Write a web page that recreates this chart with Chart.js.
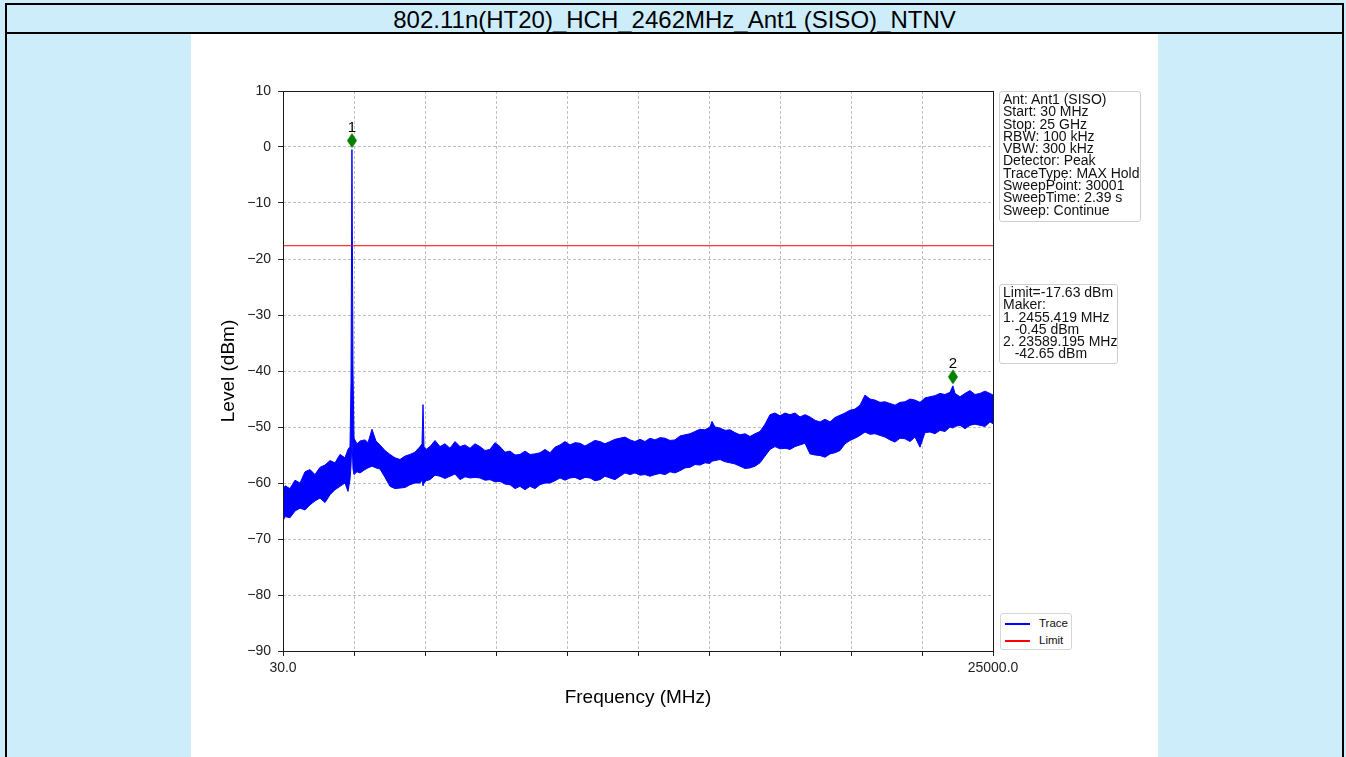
<!DOCTYPE html>
<html>
<head>
<meta charset="utf-8">
<script src="https://cdn.jsdelivr.net/npm/chart.js@4/dist/chart.umd.min.js"></script>
<style>
html,body{margin:0;padding:0;width:1346px;height:757px;overflow:hidden;background:#cdedfb;font-family:"Liberation Sans",Arial,sans-serif;}
#frame{position:absolute;left:5px;top:3px;width:1335px;height:800px;border:2px solid #000;}
#title{position:absolute;left:0;top:0;width:100%;height:27px;border-bottom:2px solid #000;text-align:center;font-size:24px;line-height:30px;color:#000;}
#panel{position:absolute;left:191px;top:34px;width:967px;height:723px;background:#fff;}
#chart{position:absolute;left:191px;top:34px;}
.box{position:absolute;box-sizing:border-box;border:1px solid #cfcfcf;border-radius:3px;background:#fff;font-size:14px;line-height:12.3px;padding:1px 3px;color:#111;white-space:pre;}
#legend{position:absolute;box-sizing:border-box;left:1000px;top:613px;width:72px;height:37px;border:1px solid #d6d6d6;border-radius:3px;background:#fff;font-size:11.5px;color:#111;}
#legend .row{position:absolute;left:4px;height:14px;}
#legend .ln{position:absolute;left:0;top:7px;width:25px;height:1.5px;}
#legend .tx{position:absolute;left:34px;top:0;line-height:14px;}
</style>
</head>
<body>
<div id="panel"></div>
<div id="frame"><div id="title"></div></div>
<canvas id="chart" width="967" height="723"></canvas>
<div class="box" id="info1" style="left:999px;top:91px;width:142px;height:131px;"></div>
<div class="box" id="info2" style="left:999px;top:284px;width:119px;height:80px;"></div>
<div id="legend"></div>
<script>
// ---------------- data ----------------
const chartTitle = "802.11n(HT20)_HCH_2462MHz_Ant1 (SISO)_NTNV";
const xMin = 30, xMax = 25000;
const yMin = -90, yMax = 10;
const xTickValues = [30, 2527, 5024, 7521, 10018, 12515, 15012, 17509, 20006, 22503, 25000];
const xTickLabels = ["30.0", "", "", "", "", "", "", "", "", "", "25000.0"];
const yTickValues = [10, 0, -10, -20, -30, -40, -50, -60, -70, -80, -90];

const freqMHz = [
  30,100,276,452,628,804,980,1155,1331,1507,1683,1859,2035,2210,2316,2386,2421,2455,2492,2527,
  2632,2738,2914,3019,3160,3300,3441,3617,3793,3969,4145,4321,4496,4672,4848,4918,4954,4989,5059,5200,
  5376,5552,5727,5903,6079,6255,6431,6607,6782,6958,7134,7310,7486,7662,7838,8013,8189,8365,8541,8717,
  8893,9068,9244,9420,9596,9772,9948,10124,10299,10475,10651,10827,11003,11179,11354,11530,11706,11882,12058,12234,
  12409,12585,12761,12937,13113,13289,13465,13640,13816,13992,14168,14344,14520,14695,14871,15047,15117,15223,15399,15575,
  15751,15926,16102,16278,16454,16630,16806,16982,17157,17333,17509,17685,17861,18037,18212,18388,18564,18740,18916,19092,
  19268,19443,19619,19795,19971,20147,20323,20499,20674,20850,21026,21202,21378,21554,21729,21905,22081,22257,22433,22609,
  22785,22960,23136,23312,23488,23589,23663,23839,24015,24191,24366,24542,24718,24894,25000
];
// upper envelope of the MAX-hold trace (dBm)
const traceUpper = [
  -61.5,-60.5,-61.0,-59.5,-60.0,-58.0,-57.6,-58.5,-57.2,-56.8,-56.0,-56.4,-54.9,-55.5,-54.0,-53.5,-42.0,-0.45,-40.0,-52.0,
  -53.0,-52.5,-52.3,-52.8,-50.4,-52.5,-53.2,-54.2,-54.9,-55.5,-55.8,-55.2,-54.9,-54.5,-53.5,-53.0,-46.0,-53.5,-54.0,-53.5,
  -52.4,-53.5,-53.0,-53.8,-52.6,-53.5,-53.2,-53.8,-53.0,-53.5,-54.2,-54.0,-52.8,-53.5,-54.5,-54.3,-55.0,-54.9,-54.3,-54.9,
  -54.8,-54.6,-54.0,-54.6,-53.6,-53.2,-52.6,-53.2,-52.8,-52.9,-53.4,-52.9,-52.4,-52.6,-53.0,-52.6,-52.2,-52.0,-51.8,-52.3,
  -52.6,-52.2,-52.6,-52.0,-52.3,-51.9,-52.0,-52.4,-52.3,-51.6,-51.4,-51.2,-50.8,-50.4,-50.5,-50.0,-49.0,-50.0,-50.2,-50.6,
  -50.5,-51.0,-51.4,-51.2,-51.7,-51.2,-50.8,-49.5,-47.8,-47.5,-48.0,-47.5,-47.8,-47.5,-48.2,-47.8,-48.2,-48.8,-49.1,-48.6,
  -49.1,-48.3,-47.9,-47.5,-47.0,-46.8,-46.1,-44.3,-45.0,-45.2,-45.6,-45.5,-45.8,-46.1,-45.6,-45.5,-45.0,-45.2,-45.6,-44.8,
  -44.6,-44.4,-44.0,-44.2,-43.8,-42.65,-44.0,-44.6,-44.0,-43.5,-44.2,-44.0,-43.6,-44.0,-44.3
];
// lower envelope of the MAX-hold trace (dBm)
const traceLower = [
  -66.8,-66.0,-66.2,-65.0,-64.5,-64.8,-63.9,-63.2,-62.7,-63.5,-62.1,-61.2,-60.6,-60.0,-61.5,-59.4,-57.0,-52.0,-57.5,-58.5,
  -58.0,-58.2,-57.6,-57.3,-57.0,-57.3,-57.5,-59.0,-60.6,-61.0,-60.9,-60.8,-60.3,-60.0,-60.0,-59.5,-60.5,-60.0,-59.6,-59.4,
  -58.6,-58.8,-59.2,-58.8,-58.4,-59.4,-58.9,-59.1,-59.0,-59.1,-59.5,-59.4,-59.8,-59.7,-60.2,-60.3,-61.0,-60.6,-61.2,-60.6,
  -61.0,-60.3,-60.0,-60.0,-59.6,-59.1,-59.5,-59.1,-59.0,-59.4,-59.0,-59.1,-59.6,-59.4,-58.8,-59.1,-59.4,-58.8,-58.2,-58.5,
  -58.2,-58.6,-58.5,-58.8,-58.5,-58.3,-58.5,-58.0,-58.2,-57.8,-57.3,-57.2,-56.7,-56.8,-56.4,-56.5,-56.1,-56.0,-55.8,-56.2,
  -56.4,-56.6,-57.0,-57.4,-57.3,-57.0,-56.4,-55.2,-54.0,-53.5,-53.9,-53.8,-54.0,-53.5,-53.2,-52.9,-54.8,-55.0,-55.1,-55.4,
  -54.8,-54.6,-54.2,-53.0,-52.4,-52.0,-51.5,-50.9,-51.3,-51.2,-51.5,-51.8,-52.3,-52.7,-52.0,-52.1,-52.6,-51.8,-53.6,-51.0,
  -50.9,-51.2,-50.6,-50.8,-50.0,-50.2,-49.9,-49.7,-50.3,-49.7,-49.5,-49.7,-49.9,-49.1,-49.4
];
const limitLevel = -17.63;
const markerNames = ["1", "2"];
const markerFreq = [2455.419, 23589.195];
const markerLevel = [-0.45, -42.65];
const infoLines = [
  "Ant: Ant1 (SISO)", "Start: 30 MHz", "Stop: 25 GHz", "RBW: 100 kHz", "VBW: 300 kHz",
  "Detector: Peak", "TraceType: MAX Hold", "SweepPoint: 30001", "SweepTime: 2.39 s", "Sweep: Continue"
];
const legendItems = [{label: "Trace", color: "#0000ff"}, {label: "Limit", color: "#ff0000"}];

// ---------------- text blocks ----------------
document.getElementById('title').textContent = chartTitle;
document.getElementById('info1').textContent = infoLines.join("\n");
const info2 = document.getElementById('info2');
const l2 = ["Limit=" + limitLevel.toFixed(2) + " dBm", "Maker:"];
markerFreq.forEach((f, i) => {
  l2.push(markerNames[i] + ". " + f.toFixed(3) + " MHz");
  l2.push("   " + markerLevel[i].toFixed(2) + " dBm");
});
info2.textContent = l2.join("\n");
const leg = document.getElementById('legend');
legendItems.forEach((it, i) => {
  const r = document.createElement('div');
  r.className = 'row';
  r.style.top = (2 + i * 17) + 'px';
  r.innerHTML = '<div class="ln" style="background:' + it.color + '"></div><div class="tx"></div>';
  r.querySelector('.tx').textContent = it.label;
  leg.appendChild(r);
});

// ---------------- marker glyph (thin diamond, drawn above the point) ----------------
const diamond = document.createElement('canvas');
diamond.width = 12; diamond.height = 40;
(function () {
  const c = diamond.getContext('2d');
  const cx = 6, cy = 11;
  c.fillStyle = '#008000';
  c.beginPath();
  c.moveTo(cx, cy - 7.5); c.lineTo(cx + 5, cy); c.lineTo(cx, cy + 7.5); c.lineTo(cx - 5, cy);
  c.closePath(); c.fill();
})();

const boxPlugin = {
  id: 'boxPlugin',
  afterDraw(chart) {
    const {ctx, chartArea: a} = chart;
    const l = Math.round(a.left), r = Math.round(a.right), t = Math.round(a.top), b = Math.round(a.bottom);
    ctx.save();
    ctx.strokeStyle = '#1a1a1a';
    ctx.lineWidth = 1;
    ctx.strokeRect(l + 0.5, t + 0.5, r - l, b - t);
    ctx.restore();
  }
};
const markerLabelPlugin = {
  id: 'markerLabels',
  afterDatasetsDraw(chart) {
    const meta = chart.getDatasetMeta(3);
    const ctx = chart.ctx;
    ctx.save();
    ctx.font = '15px "Liberation Sans", Arial, sans-serif';
    ctx.fillStyle = '#000';
    ctx.textAlign = 'center';
    ctx.textBaseline = 'alphabetic';
    meta.data.forEach((pt, i) => ctx.fillText(markerNames[i], pt.x, pt.y - 18));
    ctx.restore();
  }
};

const tickFont = {family: '"Liberation Sans", Arial, sans-serif', size: 14};
const edgeHidden = (lo, hi) => c => (c.tick && (c.tick.value === lo || c.tick.value === hi)) ? 'rgba(0,0,0,0)' : '#b0b0b0';
new Chart(document.getElementById('chart'), {
  type: 'line',
  data: {
    datasets: [
      {label: 'Trace', data: freqMHz.map((f, i) => ({x: f, y: traceUpper[i]})), borderColor: '#0000ff', backgroundColor: '#0000ff', borderWidth: 1, pointRadius: 0, fill: false, order: 3},
      {label: 'Trace low', data: freqMHz.map((f, i) => ({x: f, y: traceLower[i]})), borderColor: '#0000ff', backgroundColor: '#0000ff', borderWidth: 1, pointRadius: 0, fill: '-1', order: 3},
      {label: 'Limit', data: [{x: xMin, y: limitLevel}, {x: xMax, y: limitLevel}], borderColor: '#ff0000', borderWidth: 1, pointRadius: 0, fill: false, order: 2},
      {label: 'Markers', data: markerFreq.map((f, i) => ({x: f, y: markerLevel[i]})), showLine: false, pointStyle: diamond, pointRadius: 6, order: 1}
    ]
  },
  options: {
    responsive: false,
    devicePixelRatio: 1,
    animation: false,
    events: [],
    layout: {padding: {left: 26, right: 165, top: 57, bottom: 48}},
    plugins: {legend: {display: false}, tooltip: {enabled: false}, title: {display: false}},
    scales: {
      x: {
        type: 'linear', min: xMin, max: xMax,
        afterBuildTicks: s => { s.ticks = xTickValues.map(v => ({value: v})); },
        afterFit: s => { s.height = 58; },
        ticks: {autoSkip: false, maxRotation: 0, padding: 4, color: '#222', font: tickFont, callback: (v, i) => xTickLabels[i]},
        grid: {color: edgeHidden(xMin, xMax), lineWidth: 0.8, tickLength: 5, tickColor: '#222', tickWidth: 1},
        border: {display: false, dash: [3, 2]},
        title: {display: true, text: 'Frequency (MHz)', color: '#000', font: {family: '"Liberation Sans", Arial, sans-serif', size: 19}, padding: {top: 0, bottom: 0}}
      },
      y: {
        type: 'linear', min: yMin, max: yMax,
        afterBuildTicks: s => { s.ticks = yTickValues.map(v => ({value: v})); },
        afterFit: s => { s.width = 66; },
        ticks: {padding: 7, color: '#222', font: tickFont, callback: v => (v < 0 ? '\u2212' : '') + Math.abs(v)},
        grid: {color: edgeHidden(yMin, yMax), lineWidth: 0.8, tickLength: 5, tickColor: '#222', tickWidth: 1},
        border: {display: false, dash: [3, 2]},
        title: {display: true, text: 'Level (dBm)', color: '#000', font: {family: '"Liberation Sans", Arial, sans-serif', size: 19}, padding: {top: 0, bottom: 0}}
      }
    }
  },
  plugins: [boxPlugin, markerLabelPlugin]
});
</script>
</body>
</html>
